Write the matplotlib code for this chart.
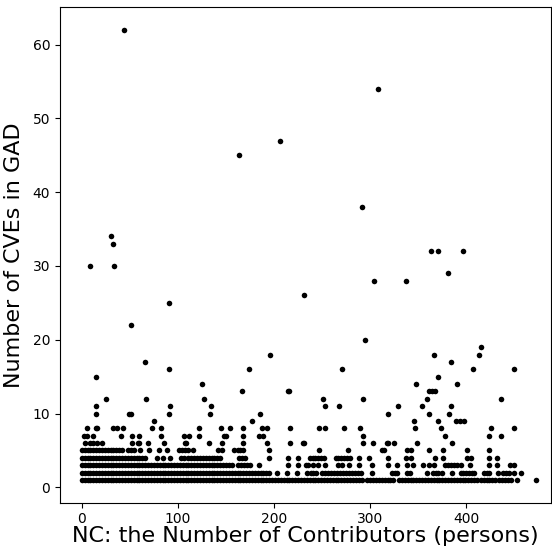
import matplotlib
matplotlib.use("Agg")
import matplotlib.pyplot as plt

# x = NC (contributors) for projects at each CVE count (dense low rows)
nc_cve1 = [0, 3, 6, 9, 12, 15, 18, 21, 24, 27, 30, 33, 36, 39, 42, 45, 48, 51, 54, 57, 60, 63, 66, 69, 72, 75,
           78, 81, 84, 87, 90, 93, 96, 99, 102, 105, 108, 111, 114, 117, 120, 123, 126, 129, 132, 135, 138,
           141, 144, 147, 150, 153, 156, 159, 162, 165, 168, 171, 174, 177, 180, 183, 186, 189, 192, 195, 198,
           201, 204, 207, 210, 213, 216, 219, 222, 225, 228, 231, 234, 237, 240, 243, 246, 249, 252, 255, 258,
           261, 264, 267, 270, 273, 276, 279, 282, 285, 288, 291, 297, 300, 303, 306, 309, 312, 315, 318, 321,
           324, 330, 333, 336, 339, 342, 345, 348, 351, 354, 357, 360, 363, 366, 369, 372, 375, 378, 381, 384,
           387, 390, 393, 396, 399, 402, 405, 408, 411, 415, 418, 421, 424, 427, 430, 434, 437, 440, 443, 446,
           453, 472]
nc_cve2 = [0, 3, 6, 9, 12, 15, 18, 21, 24, 27, 30, 33, 36, 39, 42, 45, 48, 51, 54, 57, 60, 63, 66, 69, 72, 75,
           78, 81, 84, 87, 90, 93, 96, 99, 102, 105, 108, 111, 114, 117, 120, 123, 126, 129, 132, 135, 138,
           141, 144, 147, 150, 153, 156, 159, 162, 165, 168, 171, 174, 177, 180, 183, 186, 189, 192, 195,
           203, 213, 224, 234, 238, 241, 244, 250, 253, 256, 259, 262, 265, 269, 272, 275, 278, 281, 284, 287,
           290, 302, 323, 326, 328, 338, 341, 359, 365, 368, 370, 375, 385, 394, 397, 400, 403, 406, 408, 418,
           421, 424, 433, 438, 441, 444, 450, 457]
nc_cve3 = [0, 3, 6, 9, 12, 15, 18, 21, 24, 27, 30, 33, 36, 39, 42, 45, 48, 51, 54, 57, 60, 63, 66, 69, 72, 75,
           78, 81, 84, 87, 90, 93, 96, 99, 102, 105, 108, 111, 114, 117, 120, 123, 126, 129, 132, 135, 138,
           141, 144, 147, 150, 153, 156, 163, 166, 169, 172, 175, 184, 214, 225, 233, 235, 241, 246, 253, 266,
           271, 278, 288, 302, 319, 328, 338, 344, 355, 361, 366, 378, 381, 384, 387, 390, 394, 404, 423, 432,
           445, 450]
nc_cve4 = [0, 3, 6, 9, 12, 15, 18, 21, 24, 27, 30, 33, 36, 39, 42, 45, 48, 51, 54, 57, 60, 63, 66, 78, 85, 92,
           103, 106, 111, 114, 117, 120, 123, 126, 129, 132, 135, 138, 141, 144, 164, 167, 170, 195, 214, 225,
           237, 240, 243, 246, 249, 252, 264, 267, 270, 273, 276, 279, 288, 299, 318, 337, 342, 367, 376, 401,
           405, 424, 432]
nc_cve5 = [0, 3, 6, 9, 12, 15, 18, 21, 24, 27, 30, 33, 36, 39, 42, 48, 51, 54, 61, 70, 80, 89, 101, 104, 107,
           110, 116, 142, 146, 158, 162, 165, 168, 195, 247, 277, 312, 314, 338, 342, 361, 376, 401, 424]
nc_cve6 = [3, 9, 12, 16, 21, 52, 58, 60, 69, 86, 107, 108, 132, 146, 168, 193, 217, 230, 231, 292, 303, 317,
           319, 325, 349, 385]
nc_cve7 = [2, 5, 12, 41, 52, 60, 82, 106, 112, 122, 148, 150, 168, 184, 188, 292, 378, 424, 436]
nc_cve8 = [5, 15, 16, 32, 37, 43, 73, 82, 122, 145, 154, 168, 187, 193, 217, 247, 253, 273, 289, 347, 374,
           426, 450]

# sparse points (CVE count >= 9)
nc_high = [75, 177, 346, 370, 389, 393, 398,
           15, 49, 51, 91, 133, 185, 319, 361, 382,
           15, 92, 134, 253, 268, 329, 354, 384,
           25, 67, 127, 251, 292, 359, 436,
           167, 214, 216, 361, 364, 367,
           125, 348, 390,
           15, 370,
           91, 174, 271, 407, 450,
           66, 384,
           196, 366, 413,
           415,
           295, 51, 91, 231, 304, 337, 381, 9, 34, 363, 370, 397, 32, 30, 291, 164, 206, 308, 44]
cve_high = [9, 9, 9, 9, 9, 9, 9,
            10, 10, 10, 10, 10, 10, 10, 10, 10,
            11, 11, 11, 11, 11, 11, 11, 11,
            12, 12, 12, 12, 12, 12, 12,
            13, 13, 13, 13, 13, 13,
            14, 14, 14,
            15, 15,
            16, 16, 16, 16, 16,
            17, 17,
            18, 18, 18,
            19,
            20, 22, 25, 26, 28, 28, 29, 30, 30, 32, 32, 32, 33, 34, 38, 45, 47, 54, 62]

low_rows = [nc_cve1, nc_cve2, nc_cve3, nc_cve4, nc_cve5, nc_cve6, nc_cve7, nc_cve8]
xs, ys = [], []
for k, row in enumerate(low_rows, start=1):
    xs += row
    ys += [k] * len(row)
xs += nc_high
ys += cve_high

fig = plt.figure(figsize=(5.52, 5.48), dpi=100)
ax = fig.add_axes([0.1087, 0.0830, 0.8895, 0.9037])
ax.scatter(xs, ys, s=16, c="black", linewidths=0)
ax.set_xlim(-22.6, 488)
ax.set_ylim(-2.05, 65.05)
ax.set_xticks([0, 100, 200, 300, 400])
ax.set_yticks([0, 10, 20, 30, 40, 50, 60])
ax.tick_params(labelsize=10)
ax.set_xlabel("NC: the Number of Contributors (persons)", fontsize=16, labelpad=0)
ax.set_ylabel("Number of CVEs in GAD", fontsize=16, labelpad=6)
fig.savefig("out.png", dpi=100)
